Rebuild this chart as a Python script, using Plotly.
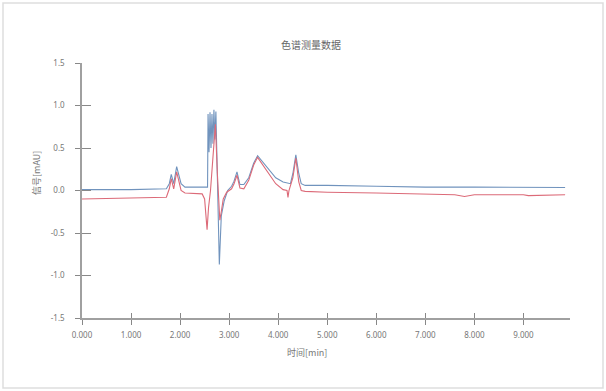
import plotly.graph_objects as go

# ---- data ----
blue_t = [0.0, 1.0, 1.72, 1.78, 1.82, 1.87, 1.93, 2.02, 2.1, 2.5, 2.56, 2.57, 2.59, 2.61, 2.63, 2.65, 2.67, 2.69,
          2.71, 2.73, 2.76, 2.80, 2.84, 2.90, 2.97, 3.05, 3.1, 3.16, 3.22, 3.3, 3.4, 3.5, 3.58, 3.65, 3.8, 3.95,
          4.1, 4.25, 4.3, 4.36, 4.42, 4.47, 4.55, 5.0, 6.0, 7.0, 8.0, 9.0, 9.85]
blue_v = [0.01, 0.01, 0.02, 0.08, 0.19, 0.08, 0.28, 0.08, 0.04, 0.04, 0.04, 0.9, 0.45, 0.92, 0.5, 0.9, 0.55, 0.95,
          0.6, 0.93, 0.2, -0.87, -0.3, -0.12, 0.0, 0.05, 0.11, 0.22, 0.07, 0.07, 0.15, 0.32, 0.41, 0.36, 0.25, 0.15,
          0.1, 0.08, 0.2, 0.42, 0.2, 0.08, 0.06, 0.06, 0.05, 0.04, 0.04, 0.035, 0.035]

red_t = [0.0, 1.0, 1.72, 1.78, 1.82, 1.87, 1.93, 2.02, 2.1, 2.45, 2.5, 2.55, 2.58, 2.62, 2.66, 2.72, 2.76, 2.81,
         2.84, 2.88, 2.95, 3.05, 3.1, 3.16, 3.22, 3.3, 3.4, 3.5, 3.58, 3.65, 3.8, 3.95, 4.1, 4.18, 4.2, 4.22,
         4.3, 4.36, 4.42, 4.47, 4.55, 5.0, 6.0, 7.0, 7.6, 7.8, 8.0, 9.0, 9.1, 9.85]
red_v = [-0.1, -0.09, -0.08, 0.02, 0.14, 0.02, 0.22, 0.0, -0.03, -0.04, -0.1, -0.46, -0.2, 0.0, 0.3, 0.78, 0.2,
         -0.35, -0.25, -0.1, -0.02, 0.02, 0.08, 0.18, 0.03, 0.02, 0.12, 0.3, 0.39, 0.33, 0.2, 0.08, 0.01, 0.0,
         -0.08, 0.0, 0.15, 0.38, 0.1, 0.0, -0.01, -0.02, -0.03, -0.04, -0.05, -0.07, -0.05, -0.05, -0.06, -0.05]

x_ticks = [0, 1, 2, 3, 4, 5, 6, 7, 8, 9]
x_tick_text = ["0.000", "1.000", "2.000", "3.000", "4.000", "5.000", "6.000", "7.000", "8.000", "9.000"]
y_ticks = [-1.5, -1.0, -0.5, 0.0, 0.5, 1.0, 1.5]
y_tick_text = ["-1.5", "-1.0", "-0.5", "0.0", "0.5", "1.0", "1.5"]

X_RANGE = [0, 9.95]
Y_RANGE = [-1.5, 1.5]

# plot-area geometry in pixels
L, R, T, B = 82, 570, 63, 318
PW, PH = R - L, B - T


def px_x(p):
    return (p - L) / PW


def px_y(p):
    return (B - p) / PH


fig = go.Figure()
# transparent copy on overlay axes so that the crossing ticks are drawn
fig.add_trace(go.Scatter(x=blue_t, y=blue_v, xaxis="x2", yaxis="y2", mode="lines", opacity=0,
                         line=dict(width=0.1), showlegend=False, hoverinfo="skip"))
fig.add_trace(go.Scatter(x=blue_t, y=blue_v, mode="lines", line=dict(color="#7093bd", width=1.1),
                         showlegend=False, hoverinfo="skip"))
fig.add_trace(go.Scatter(x=red_t, y=red_v, mode="lines", line=dict(color="#dc6a78", width=1.1),
                         showlegend=False, hoverinfo="skip"))

tickfont = dict(family="Noto Sans, DejaVu Sans", size=8, color="#777777")
fig.update_layout(
    width=606, height=391,
    margin=dict(l=L, r=606 - R, t=T, b=391 - B),
    paper_bgcolor="white", plot_bgcolor="white",
    title=dict(text="色谱测量数据", x=311 / 606, xanchor="center", y=1 - 45 / 391, yanchor="middle",
               font=dict(family="Noto Sans CJK SC", size=10, color="#666666")),
    xaxis=dict(range=X_RANGE, tickmode="array", tickvals=x_ticks, ticktext=x_tick_text,
               showgrid=False, zeroline=False, showline=True, linecolor="#a0a0a0", linewidth=1.5,
               ticks="outside", ticklen=5, tickwidth=1.2, tickcolor="#888888", tickfont=tickfont,
               ticklabelstandoff=4),
    yaxis=dict(range=Y_RANGE, tickmode="array", tickvals=y_ticks, ticktext=y_tick_text,
               showgrid=False, zeroline=False, showline=True, linecolor="#a0a0a0", linewidth=1.5,
               ticks="outside", ticklen=5, tickwidth=1.2, tickcolor="#888888", tickfont=tickfont,
               ticklabelstandoff=9),
    xaxis2=dict(range=X_RANGE, overlaying="x", tickmode="array", tickvals=x_ticks, showticklabels=False,
                showgrid=False, zeroline=False, showline=False, ticks="inside", ticklen=5, tickwidth=1.2,
                tickcolor="#888888", anchor="y2", side="bottom"),
    yaxis2=dict(range=Y_RANGE, overlaying="y", tickmode="array", tickvals=y_ticks, showticklabels=False,
                showgrid=False, zeroline=False, showline=False, ticks="inside", ticklen=9, tickwidth=1.2,
                tickcolor="#888888", anchor="x2", side="left"),
    annotations=[
        dict(text="时间[min]", x=px_x(307), y=px_y(352), xref="paper", yref="paper",
             xanchor="center", yanchor="middle", showarrow=False,
             font=dict(family="Noto Sans CJK SC", size=9, color="#777777")),
        dict(text="信号[mAU]", x=px_x(36), y=px_y(173), xref="paper", yref="paper",
             xanchor="center", yanchor="middle", showarrow=False, textangle=-90,
             font=dict(family="Noto Sans CJK SC", size=9, color="#777777")),
    ],
)

# outer card border (decorative frame around the whole chart)
fig.add_shape(type="rect", xref="paper", yref="paper",
              x0=px_x(3), x1=px_x(603), y0=px_y(388), y1=px_y(3),
              line=dict(color="#dedede", width=1.5), fillcolor="rgba(0,0,0,0)", layer="below")

fig.write_html("out.html")
